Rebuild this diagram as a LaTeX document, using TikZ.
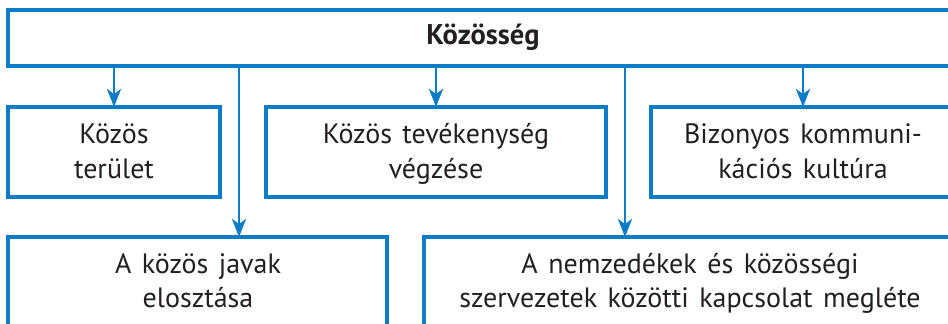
\documentclass[tikz,border=0pt]{standalone}
\usepackage{fontspec}
\setmainfont[WordSpace=1.4]{PT Sans}
\usetikzlibrary{arrows.meta}
\definecolor{bl}{HTML}{0A7DC6}
\definecolor{tx}{HTML}{231F20}
\begin{document}
\begin{tikzpicture}[x=1pt,y=-1pt,
  boxst/.style={draw=bl, line width=3.2pt, inner sep=0pt, outer sep=0pt, anchor=north west},
  arr/.style={draw=bl, line width=2.8pt, -{Stealth[length=18pt,width=14pt,inset=5pt]}},
  lbl/.style={text=tx, font=\fontsize{28}{33}\selectfont, anchor=base, inner sep=0pt},
  ttl/.style={text=tx, font=\bfseries\fontsize{28.5}{33}\selectfont, anchor=base, inner sep=0pt}]
\useasboundingbox (0,0) rectangle (948,324);
\clip (0,0) rectangle (948,324);
% boxes
\node[boxst, minimum width=945pt, minimum height=56pt] (top) at (8,10) {};
\node[boxst, minimum width=212pt, minimum height=90pt] (b1) at (8,107) {};
\node[boxst, minimum width=340pt, minimum height=90pt] (b2) at (266,107) {};
\node[boxst, minimum width=304pt, minimum height=90pt] (b3) at (651,107) {};
\node[boxst, minimum width=379pt, minimum height=110pt] (b4) at (8,237) {};
\node[boxst, minimum width=531pt, minimum height=110pt] (b5) at (424,237) {};
% texts
\node[ttl] (t0) at (483,44) {Közösség};
\node[lbl] (t1a) at (114,143) {Közös};
\node[lbl] (t1b) at (114,178) {terület};
\node[lbl] (t2a) at (436,143) {Közös tevékenység};
\node[lbl] (t2b) at (436,178) {végzése};
\node[lbl] (t3a) at (803,143) {Bizonyos kommuni-};
\node[lbl] (t3b) at (803,178) {kációs kultúra};
\node[lbl] (t4a) at (198,273) {A közös javak};
\node[lbl] (t4b) at (198,307) {elosztása};
\node[lbl] (t5a) at (690,273) {A nemzedékek és közösségi};
\node[lbl] (t5b) at (690,307) {szervezetek közötti kapcsolat megléte};
% connectors
\coordinate (x4) at (239,0);
\coordinate (x5) at (625,0);
\draw[arr] (top.south -| b1.north) -- (b1.north);
\draw[arr] (top.south -| b2.north) -- (b2.north);
\draw[arr] (top.south -| b3.north) -- (b3.north);
\draw[arr] (top.south -| x4) -- (b4.north -| x4);
\draw[arr] (top.south -| x5) -- (b5.north -| x5);
\end{tikzpicture}
\end{document}
